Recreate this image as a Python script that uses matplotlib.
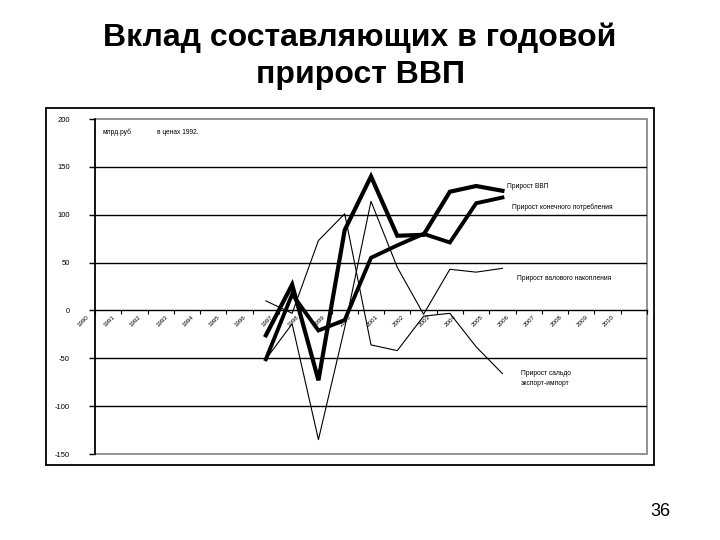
import matplotlib
matplotlib.use("Agg")
import matplotlib.pyplot as plt
import matplotlib.transforms as mtrans
from matplotlib.patches import Rectangle

plt.rcParams['font.family'] = ['Liberation Sans', 'DejaVu Sans']

years = [str(y) for y in range(1990, 2011)]
data_years = list(range(1996, 2006))
gdp = [-26, 27, -73, 84, 140, 78, 79, 124, 130, 125]
consumption = [-51, 17, -21, -10, 55, 68, 80, 71, 112, 118]
accumulation = [-51, -14, -135, -18, 114, 45, -4, 43, 40, 44]
net_export = [10, -3, 73, 101, -36, -42, -6, -3, -38, -66]
yticks = [-150, -100, -50, 0, 50, 100, 150, 200]

fig = plt.figure(figsize=(7.2, 5.4), dpi=100)
L, R, B, T = 95 / 720, 647 / 720, 1 - 454 / 540, 1 - 119 / 540
ax = fig.add_axes([L, B, R - L, T - B])

xpos = [years.index(str(y)) for y in data_years]

# grid lines
for v in yticks:
    if v in (0,):
        continue
    if v in (-150, 200):
        continue
    ax.axhline(v, color='black', lw=1.0, zorder=1)

ax.plot(xpos, accumulation, color='black', lw=0.8, zorder=3)
ax.plot(xpos, net_export, color='black', lw=0.8, zorder=3)
ax.plot(xpos, consumption, color='black', lw=2.8, zorder=4, solid_joinstyle='miter')
ax.plot(xpos, gdp, color='black', lw=3.0, zorder=5, solid_joinstyle='miter')

ax.set_xlim(-0.5, len(years) - 0.5)
ax.set_ylim(-150, 200)

# spines
for s in ['top', 'right']:
    ax.spines[s].set_visible(False)
ax.spines['bottom'].set_position(('data', 0))
ax.spines['bottom'].set_linewidth(1.0)
ax.spines['left'].set_linewidth(1.2)
ax.add_patch(Rectangle((0, 0), 1, 1, transform=ax.transAxes, fill=False,
                       edgecolor='#808080', lw=1.2, zorder=0, clip_on=False))

ax.set_yticks(yticks)
ax.set_yticklabels([str(v) for v in yticks], fontsize=5.5)
ax.tick_params(axis='y', length=4, width=1.0, pad=14, direction='out')

ax.set_xticks(range(len(years)))
ax.set_xticklabels(years, fontsize=4.5, rotation=45, ha='right', va='top',
                   rotation_mode='anchor')
ax.tick_params(axis='x', which='major', length=0, pad=3)
ax.set_xticks([i - 0.5 for i in range(len(years) + 1)], minor=True)
ax.tick_params(axis='x', which='minor', length=3, width=0.8, direction='out')
offset = mtrans.ScaledTranslation(-22 / 100, 0, fig.dpi_scale_trans)
for lab in ax.get_xticklabels():
    lab.set_transform(lab.get_transform() + offset)

# text annotations
fs = 4.8
ax.text(-0.2, 186, 'млрд.руб', fontsize=fs, va='center', ha='left')
ax.text(1.86, 186, 'в ценах 1992.', fontsize=fs, va='center', ha='left')
ax.text(15.16, 130, 'Прирост ВВП', fontsize=fs, va='center', ha='left')
ax.text(15.36, 108, 'Прирост конечного потребления', fontsize=fs, va='center', ha='left')
ax.text(15.55, 33, 'Прирост валового накопления', fontsize=fs, va='center', ha='left')
ax.text(15.7, -71, 'Прирост сальдо\nэкспорт-импорт', fontsize=fs, va='center', ha='left',
        linespacing=1.6)

# outer chart border
fig.add_artist(Rectangle((46 / 720, 1 - 465 / 540), (654 - 46) / 720, (465 - 108) / 540,
                         transform=fig.transFigure, fill=False, edgecolor='black', lw=1.3))

fig.text(0.5, 1 - 38 / 540, 'Вклад составляющих в годовой', fontsize=23, fontweight='bold',
         ha='center', va='center')
fig.text(0.5, 1 - 75 / 540, 'прирост ВВП', fontsize=23, fontweight='bold',
         ha='center', va='center')
fig.text(660 / 720, 1 - 511 / 540, '36', fontsize=13, ha='center', va='center')

fig.savefig('out.png', dpi=100)
